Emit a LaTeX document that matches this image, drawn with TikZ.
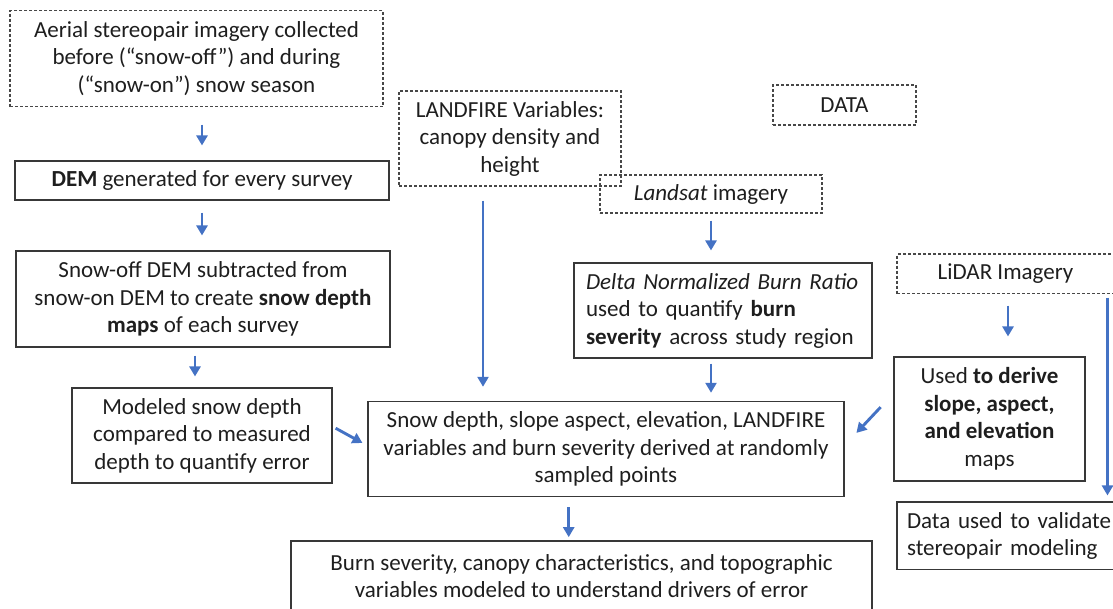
\documentclass[tikz,border=0pt]{standalone}
\usepackage{fontspec}
\setmainfont{Carlito}
\usepackage{tikz}
\usetikzlibrary{arrows.meta}
\definecolor{flowblue}{HTML}{4472C4}
\definecolor{inkgray}{HTML}{1E1E1E}

\begin{document}
\begin{tikzpicture}[x=1pt, y=-1pt,
		box/.style={draw=black!78, line width=1.1pt, inner sep=0pt, align=center, text=inkgray,
			font=\fontsize{23}{27.5}\selectfont},
		dbox/.style={box, draw=black!72, dash pattern=on 3pt off 2pt},
		flow/.style={draw=flowblue, line width=2.9pt, -{Triangle[length=10pt,width=11pt]}}]
			%%%%% START %%%%%
			\useasboundingbox (0,0) rectangle (1113,608);
			
			% data sources
			\node[dbox, minimum width=373pt, minimum height=96pt] (aerial) at (196.5,58.5)
				{Aerial stereopair imagery collected\\before (“snow-off”) and during\\(“snow-on”) snow season};
			\node[dbox, minimum width=222pt, minimum height=95pt] (landfire) at (510,138.5)
				{LANDFIRE Variables:\\canopy density and\\height};
			\node[dbox, minimum width=143pt, minimum height=40pt] (data) at (844.5,105) {DATA};
			\node[dbox, minimum width=222pt, minimum height=38pt] (landsat) at (711,194)
				{\textit{Landsat} imagery};
			\node[dbox, minimum width=217pt, minimum height=39.5pt] (lidar) at (1005.5,273.75)
				{LiDAR Imagery};
			
			% left column
			\node[box, minimum width=374pt, minimum height=39pt] (dem) at (202,180.5)
				{\textbf{DEM} generated for every survey};
			\node[box, minimum width=374pt, minimum height=96pt] (snowoff) at (203,299)
				{Snow-off DEM subtracted from\\snow-on DEM to create \textbf{snow depth}\\\textbf{maps} of each survey};
			\node[box, minimum width=260pt, minimum height=95pt] (modeled) at (202,435.5)
				{Modeled snow depth\\compared to measured\\depth to quantify error};
			
			% middle and right
			\node[box, minimum width=298pt, minimum height=95pt, text width=274pt, inner xsep=12pt, align=left] (delta) at (723,310.5)
				{\textit{Delta Normalized Burn Ratio}\\used to quantify \textbf{burn}\\\textbf{severity} across study region};
			\node[box, minimum width=191pt, minimum height=124pt] (used) at (989.5,419)
				{Used \textbf{to derive}\\\textbf{slope, aspect,}\\\textbf{and elevation}\\maps};
			\node[box, minimum width=233pt, minimum height=67.5pt, text width=213pt, inner xsep=10pt, align=left] (dataused) at (1013.5,535.75)
				{Data used to validate\\stereopair modeling};
			\node[box, minimum width=476pt, minimum height=95pt] (central) at (606,449.2)
				{Snow depth, slope aspect, elevation, LANDFIRE\\variables and burn severity derived at randomly\\sampled points};
			\node[box, minimum width=581pt, minimum height=70pt] (bottom) at (581.5,576)
				{Burn severity, canopy characteristics, and topographic\\variables modeled to understand drivers of error};
			
			% arrows
			\draw[flow, shorten <=17.5pt, shorten >=15pt] (aerial.south -| dem.north) -- (dem.north);
			\draw[flow, shorten <=12pt, shorten >=15pt] (dem.south) -- (dem.south |- snowoff.north);
			\draw[flow, shorten <=8pt, shorten >=11pt] ([xshift=-8pt]snowoff.south) -- ([xshift=-8pt]snowoff.south |- modeled.north);
			\draw[flow, shorten <=3.5pt, shorten >=5.7pt] ([yshift=9pt]modeled.east) -- ([yshift=3.5pt]central.west);
			\draw[flow, shorten <=14pt, shorten >=14.4pt] ([xshift=-27pt]landfire.south) -- ([xshift=-27pt]landfire.south |- central.north);
			\draw[flow, shorten <=7pt, shorten >=12pt] (landsat.south) -- (landsat.south |- delta.north);
			\draw[flow, shorten <=5pt, shorten >=8.4pt] (landsat.south |- delta.south) -- (landsat.south |- central.north);
			\draw[flow, shorten <=11.5pt, shorten >=20pt] ([xshift=2.5pt]lidar.south) -- ([xshift=2.5pt]lidar.south |- used.north);
			\draw[flow, shorten <=3.5pt, shorten >=6pt] ([xshift=102pt]lidar.south) -- ([xshift=102pt]lidar.south |- dataused.north);
			\draw[flow, shorten <=18.7pt, shorten >=17.3pt] ([yshift=25.5pt]used.west) -- ([yshift=3.7pt]central.east);
			\draw[flow, shorten <=10pt, shorten >=3.3pt] ([xshift=-37.3pt]central.south) -- ([xshift=-37.3pt]central.south |- bottom.north);
			
			%%%%% END %%%%%
\end{tikzpicture}
\end{document}
